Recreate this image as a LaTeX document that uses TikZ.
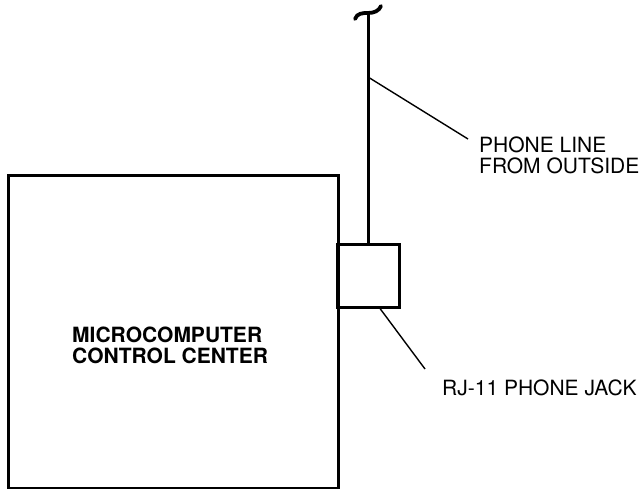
\documentclass[tikz,border=0pt]{standalone}
\usepackage{fontspec}
\setmainfont{TeX Gyre Heros}
\usetikzlibrary{positioning}

\begin{document}
\begin{tikzpicture}[
        x=1pt, y=-1pt,
        unit/.style={draw, rectangle, line width=3pt, inner sep=0pt},
        wire/.style={line width=3pt},
        leader/.style={line width=1.4pt},
        lbl/.style={inner sep=0pt, anchor=north west, align=left,
                    font=\fontsize{21}{21}\selectfont}
    ]
        \useasboundingbox (0,0) rectangle (644,489);

        \node[unit, minimum width=330pt, minimum height=313pt] (mcc) at (173,331.5) {};
        \node[unit, minimum width=62pt, minimum height=63pt] (jack) at (368,275.5) {};

        \node[lbl, font=\fontsize{21}{21}\selectfont\bfseries] (mcclab) at (72,327) {MICROCOMPUTER\\CONTROL CENTER};
        \node[lbl] (plab) at (479,137) {PHONE LINE\\FROM OUTSIDE};
        \node[lbl] (rjlab) at (442,380) {RJ-11 PHONE JACK};

        % line in from outside, broken at the top
        \coordinate (top) at (368,13);
        \coordinate (tap) at (368,77);
        \draw[wire] (jack.north) -- (top);
        \draw[line width=3.8pt, line cap=round]
            (355,19) .. controls (357,13) and (363,13) .. (top)
                     .. controls (374,13) and (379,11) .. (381,6);

        % leaders to labels
        \draw[leader] (tap) -- ([shift={(-11pt,-2pt)}]plab.north west);
        \draw[leader] ([xshift=12pt]jack.south) -- ([shift={(-17pt,11pt)}]rjlab.north west);
    \end{tikzpicture}
\end{document}
